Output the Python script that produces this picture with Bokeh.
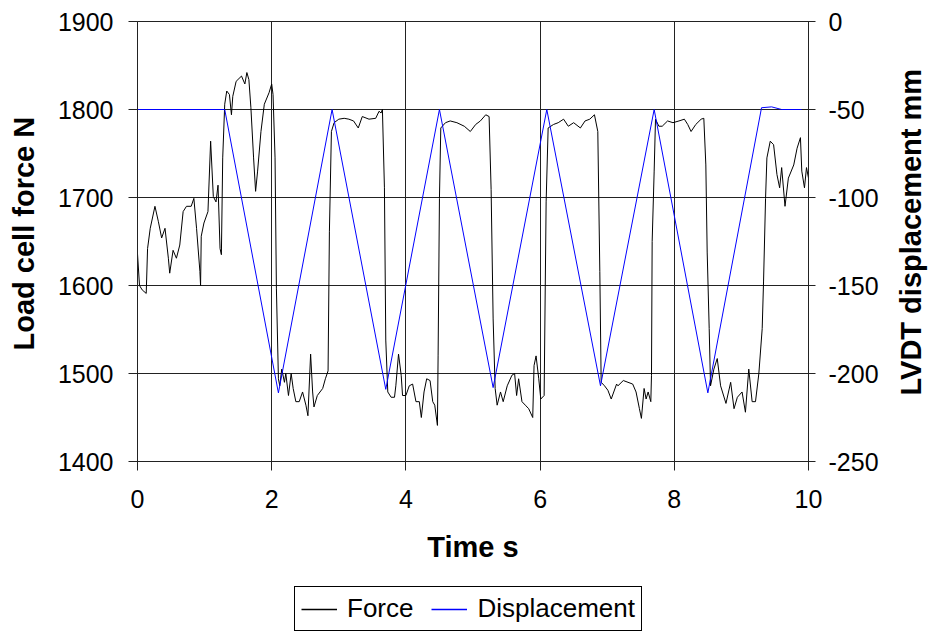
import math
from bokeh.plotting import figure
from bokeh.models import Range1d, LinearAxis, Legend, LegendItem, FixedTicker, Label
from bokeh.layouts import column, row
from bokeh.embed import file_html
from bokeh.resources import INLINE

# ---- data ----
force_t = [0.00, 0.03, 0.07, 0.13, 0.15, 0.19, 0.26, 0.31, 0.36, 0.41,
           0.46, 0.48, 0.53, 0.58, 0.63, 0.68, 0.73, 0.80, 0.84, 0.88,
           0.93, 0.94, 0.95, 0.99, 1.05, 1.09, 1.13, 1.17, 1.20, 1.23,
           1.25, 1.27, 1.30, 1.33, 1.37, 1.40, 1.42, 1.47, 1.55, 1.60,
           1.63, 1.66, 1.69, 1.73, 1.76, 1.79, 1.84, 1.89, 1.96, 2.00,
           2.02, 2.05, 2.07, 2.10, 2.12, 2.15, 2.19, 2.21, 2.25, 2.29,
           2.32, 2.36, 2.41, 2.46, 2.51, 2.54, 2.58, 2.61, 2.63, 2.68,
           2.76, 2.80, 2.84, 2.86, 2.89, 2.93, 3.00, 3.08, 3.15, 3.22,
           3.29, 3.35, 3.45, 3.55, 3.60, 3.63, 3.65, 3.68, 3.70, 3.73,
           3.78, 3.83, 3.85, 3.89, 3.93, 3.95, 4.00, 4.05, 4.10, 4.15,
           4.20, 4.23, 4.27, 4.31, 4.36, 4.40, 4.43, 4.47, 4.48, 4.50,
           4.52, 4.59, 4.66, 4.76, 4.87, 4.96, 5.04, 5.11, 5.19, 5.24,
           5.27, 5.30, 5.33, 5.36, 5.41, 5.45, 5.51, 5.58, 5.62, 5.65,
           5.68, 5.73, 5.78, 5.83, 5.89, 5.91, 5.94, 5.98, 6.01, 6.06,
           6.09, 6.12, 6.20, 6.27, 6.35, 6.42, 6.50, 6.60, 6.67, 6.74,
           6.81, 6.86, 6.89, 6.91, 6.96, 7.01, 7.06, 7.14, 7.16, 7.24,
           7.31, 7.38, 7.43, 7.48, 7.51, 7.55, 7.58, 7.61, 7.65, 7.66,
           7.67, 7.70, 7.72, 7.77, 7.82, 7.90, 7.98, 8.07, 8.15, 8.20,
           8.25, 8.32, 8.40, 8.44, 8.47, 8.49, 8.52, 8.54, 8.59, 8.64,
           8.69, 8.77, 8.84, 8.89, 8.94, 9.01, 9.06, 9.11, 9.16, 9.21,
           9.26, 9.31, 9.33, 9.36, 9.38, 9.43, 9.48, 9.53, 9.57, 9.60,
           9.65, 9.70, 9.78, 9.83, 9.88, 9.90, 9.94, 9.97, 10.00]

force_n = [1636, 1600, 1595, 1591, 1642, 1665, 1690, 1673, 1654, 1665,
           1631, 1614, 1640, 1631, 1646, 1684, 1690, 1690, 1699, 1665,
           1616, 1600, 1656, 1671, 1684, 1764, 1701, 1695, 1714, 1642,
           1635, 1745, 1806, 1821, 1817, 1794, 1815, 1832, 1838, 1829,
           1842, 1834, 1802, 1745, 1707, 1730, 1775, 1806, 1819, 1829,
           1817, 1745, 1597, 1494, 1486, 1505, 1490, 1500, 1475, 1500,
           1483, 1468, 1468, 1479, 1464, 1452, 1522, 1479, 1462, 1475,
           1483, 1494, 1503, 1661, 1775, 1785, 1789, 1790, 1789, 1787,
           1779, 1792, 1789, 1790, 1798, 1796, 1800, 1711, 1538, 1479,
           1473, 1473, 1486, 1522, 1498, 1475, 1475, 1486, 1488, 1468,
           1468, 1450, 1479, 1494, 1492, 1468, 1464, 1441, 1520, 1699,
           1779, 1785, 1787, 1785, 1781, 1775, 1783, 1787, 1794, 1792,
           1709, 1562, 1483, 1464, 1479, 1468, 1486, 1498, 1500, 1475,
           1494, 1468, 1464, 1460, 1450, 1509, 1520, 1494, 1471, 1475,
           1695, 1779, 1783, 1785, 1789, 1781, 1785, 1779, 1787, 1789,
           1794, 1775, 1616, 1490, 1486, 1481, 1471, 1488, 1486, 1492,
           1490, 1488, 1479, 1460, 1449, 1483, 1471, 1479, 1468, 1498,
           1650, 1730, 1789, 1781, 1781, 1787, 1785, 1787, 1789, 1783,
           1775, 1783, 1789, 1790, 1737, 1638, 1551, 1486, 1505, 1517,
           1486, 1466, 1490, 1460, 1473, 1479, 1456, 1505, 1468, 1468,
           1500, 1551, 1604, 1699, 1745, 1764, 1760, 1726, 1711, 1734,
           1690, 1722, 1737, 1756, 1768, 1730, 1711, 1734, 1722]

disp_t = [0.0, 1.30, 2.10, 2.90, 3.70, 4.50, 5.30, 6.10, 6.90, 7.70, 8.50, 9.30, 9.45, 9.60, 10.0]
disp_mm = [-50, -50, -211, -50, -209, -50, -208, -50, -207, -50, -211, -49, -48.5, -50, -50]

x_ticks = [0, 2, 4, 6, 8, 10]
force_ticks = [1400, 1500, 1600, 1700, 1800, 1900]
disp_ticks = [-250, -200, -150, -100, -50, 0]
disp_tick_labels = ["-250", "-200", "-150", "-100", "-50", "0"]

n = min(len(force_t), len(force_n))
force_t = force_t[:n]
force_n = force_n[:n]

FONT = "Liberation Sans"
GRID = "#222222"
BLUE = "#0000ff"
TOP_H = 575


def blank_fig(w, h):
    f = figure(width=w, height=h, x_range=Range1d(0, 1), y_range=Range1d(0, 1),
               output_backend="svg", toolbar_location=None,
               x_axis_type=None, y_axis_type=None, min_border=0)
    f.outline_line_color = None
    f.grid.visible = False
    f.background_fill_color = "white"
    f.border_fill_color = "white"
    return f


# ---- main chart ----
p = figure(width=848, height=TOP_H, x_range=Range1d(0, 10), y_range=Range1d(1400, 1900),
           output_backend="svg", toolbar_location=None,
           min_border_left=92, min_border_right=85, min_border_top=21, min_border_bottom=114)
p.extra_y_ranges = {"disp": Range1d(-250, 0)}
p.background_fill_color = "white"
p.border_fill_color = "white"
p.outline_line_color = GRID
p.outline_line_width = 1

for g in p.xgrid + p.ygrid:
    g.grid_line_color = GRID
    g.grid_line_width = 1
p.xgrid.ticker = FixedTicker(ticks=x_ticks)
p.ygrid.ticker = FixedTicker(ticks=force_ticks)

xa = p.xaxis[0]
xa.ticker = FixedTicker(ticks=x_ticks)
xa.axis_label = "Time s"
ya = p.yaxis[0]
ya.ticker = FixedTicker(ticks=force_ticks)

ra = LinearAxis(y_range_name="disp", ticker=FixedTicker(ticks=disp_ticks))
ra.major_label_overrides = {t: s for t, s in zip(disp_ticks, disp_tick_labels)}
p.add_layout(ra, "right")

for ax in (xa, ya, ra):
    ax.axis_line_color = GRID
    ax.major_tick_line_color = GRID
    ax.minor_tick_line_color = None
    ax.major_label_text_font = FONT
    ax.major_label_text_font_size = "25px"
    ax.major_label_text_color = "black"
    ax.axis_label_text_font = FONT
    ax.axis_label_text_font_size = "29px"
    ax.axis_label_text_font_style = "bold"
    ax.axis_label_text_color = "black"

ya.major_tick_out = 9
ya.major_tick_in = 0
ya.major_label_standoff = 15
xa.major_tick_out = 9
xa.major_tick_in = 6
xa.major_label_standoff = 19
xa.axis_label_standoff = 20
ra.major_tick_out = 7
ra.major_tick_in = 7
ra.major_label_standoff = 13

rf = p.line(force_t, force_n, line_color="black", line_width=1)
rd = p.line(disp_t, disp_mm, line_color=BLUE, line_width=1, y_range_name="disp")

# ---- vertical axis titles (read bottom-to-top, as in the reference) ----
# the side strips share the main chart's frame rows (21..461 px); y is measured up from 461
lt = blank_fig(45, TOP_H)
lt.add_layout(Label(x=23, y=111, x_units="screen", y_units="screen",
                    text="Load cell force N", angle=math.pi / 2,
                    text_align="left", text_baseline="middle",
                    text_font=FONT, text_font_size="29px", text_font_style="bold",
                    text_color="black"))

rt = blank_fig(38, TOP_H)
rt.add_layout(Label(x=17, y=66, x_units="screen", y_units="screen",
                    text="LVDT displacement mm", angle=math.pi / 2,
                    text_align="left", text_baseline="middle",
                    text_font=FONT, text_font_size="29px", text_font_style="bold",
                    text_color="black"))

# ---- legend strip (its lines lie outside this strip's ranges, only the keys show) ----
lg = blank_fig(931, 58)
lf_ = lg.line(force_t, force_n, line_color="black", line_alpha=1.0, line_width=1.3)
ld_ = lg.line(disp_t, disp_mm, line_color=BLUE, line_alpha=1.0, line_width=1.3)
legend = Legend(items=[LegendItem(label="Force", renderers=[lf_]),
                       LegendItem(label="Displacement", renderers=[ld_])],
                orientation="horizontal", location=(294, 2))
legend.label_text_font = FONT
legend.label_text_font_size = "26px"
legend.label_text_color = "black"
legend.border_line_color = "black"
legend.border_line_width = 1
legend.border_line_alpha = 1
legend.background_fill_alpha = 1
legend.padding = 6
legend.margin = 0
legend.spacing = 18
legend.glyph_width = 36
legend.label_standoff = 10
legend.label_height = 24
legend.glyph_height = 24
lg.add_layout(legend, "center")

layout = column(row(lt, p, rt), lg)
open("out.html", "w").write(file_html(layout, INLINE))
